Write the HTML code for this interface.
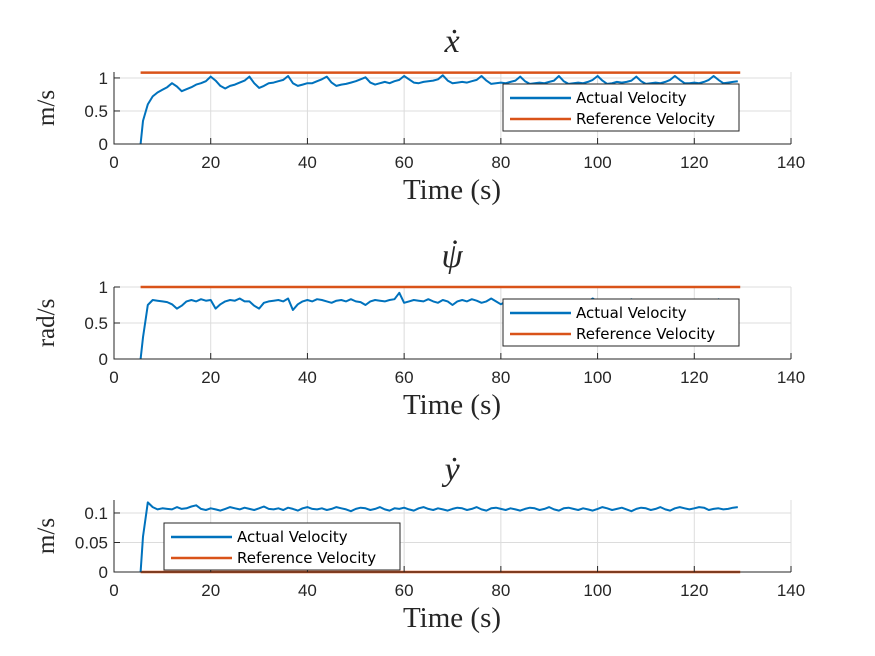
<!DOCTYPE html>
<html><head><meta charset="utf-8"><style>
html,body{margin:0;padding:0;background:#fff;}
svg{display:block;}
.tk{font-family:"Liberation Sans","DejaVu Sans",sans-serif;font-size:17px;fill:#262626;}
.lg{font-family:"DejaVu Sans","Liberation Sans",sans-serif;font-size:15px;fill:#000;}
.sf{font-family:"Liberation Serif",serif;fill:#262626;}
</style></head><body>
<svg id="chart" width="875" height="656" viewBox="0 0 875 656"></svg>
<script>
const timeStart = 5.5;
const xTicks = [0,20,40,60,80,100,120,140];
const xdotActual = [0,0.35,0.6,0.72,0.78,0.82,0.86,0.92,0.87,0.8,0.83,0.86,0.9,0.92,0.95,
1.02,0.96,0.88,0.84,0.88,0.9,0.93,0.96,1.02,0.92,0.85,0.88,0.92,0.93,0.95,0.97,
1.03,0.92,0.88,0.9,0.92,0.92,0.95,0.98,1.02,0.93,0.88,0.9,0.91,0.93,0.95,0.98,
1.01,0.93,0.9,0.92,0.94,0.92,0.95,0.97,1.03,0.98,0.93,0.92,0.94,0.95,0.96,0.98,
1.04,0.96,0.92,0.93,0.94,0.93,0.95,0.97,1.03,0.96,0.91,0.92,0.93,0.92,0.94,0.96,
1.02,0.95,0.91,0.92,0.93,0.92,0.94,0.96,1.03,0.95,0.91,0.92,0.93,0.92,0.94,0.97,
1.03,0.96,0.91,0.92,0.94,0.93,0.94,0.96,1.02,0.95,0.91,0.92,0.93,0.92,0.94,0.97,
1.03,0.97,0.92,0.92,0.93,0.92,0.94,0.97,1.03,0.97,0.92,0.93,0.94,0.95];
const xdotRef = 1.08;
const xdotTicks = [0,0.5,1];
const psidotActual = [0,0.3,0.75,0.82,0.81,0.8,0.79,0.76,0.7,0.74,0.8,0.82,0.8,0.83,0.81,
0.82,0.7,0.76,0.8,0.82,0.81,0.84,0.8,0.8,0.74,0.7,0.78,0.8,0.81,0.82,0.8,
0.84,0.68,0.76,0.8,0.82,0.8,0.83,0.82,0.8,0.78,0.81,0.82,0.8,0.83,0.8,0.79,
0.75,0.8,0.82,0.81,0.8,0.82,0.83,0.92,0.78,0.8,0.82,0.81,0.8,0.83,0.8,0.78,
0.82,0.8,0.75,0.8,0.82,0.8,0.83,0.81,0.78,0.8,0.84,0.8,0.76,0.8,0.82,0.81,
0.82,0.78,0.8,0.81,0.79,0.82,0.8,0.78,0.81,0.8,0.76,0.8,0.82,0.81,0.8,0.84,
0.8,0.79,0.82,0.8,0.78,0.81,0.8,0.83,0.8,0.77,0.8,0.81,0.79,0.82,0.8,0.78,
0.82,0.8,0.8,0.81,0.79,0.8,0.82,0.8,0.78,0.83,0.8,0.79,0.8,0.81];
const psidotRef = 1;
const psidotTicks = [0,0.5,1];
const ydotActual = [0,0.06,0.118,0.11,0.106,0.108,0.107,0.106,0.11,0.107,0.108,0.111,0.113,0.107,0.105,
0.108,0.106,0.104,0.107,0.11,0.108,0.106,0.109,0.107,0.105,0.108,0.111,0.107,0.106,0.108,0.105,
0.109,0.107,0.104,0.108,0.11,0.107,0.106,0.108,0.105,0.107,0.11,0.108,0.106,0.103,0.107,0.109,
0.108,0.105,0.107,0.11,0.106,0.104,0.108,0.107,0.109,0.106,0.104,0.108,0.11,0.107,0.105,0.108,
0.106,0.104,0.107,0.109,0.108,0.105,0.107,0.11,0.106,0.104,0.108,0.109,0.107,0.105,0.108,0.106,
0.104,0.107,0.109,0.108,0.105,0.107,0.11,0.106,0.104,0.108,0.109,0.107,0.105,0.108,0.106,0.104,
0.107,0.11,0.108,0.105,0.107,0.109,0.106,0.103,0.107,0.109,0.108,0.105,0.107,0.11,0.106,0.104,
0.108,0.11,0.108,0.106,0.108,0.11,0.109,0.105,0.107,0.108,0.106,0.107,0.109,0.11];
const ydotRef = 0;
const ydotTicks = [0,0.05,0.1];

const NS='http://www.w3.org/2000/svg';
const svg=document.getElementById('chart');
function mk(tag,attrs,parent){const e=document.createElementNS(NS,tag);for(const k in attrs)e.setAttribute(k,attrs[k]);(parent||svg).appendChild(e);return e;}
const X0=114,X1=791;
function sx(t){return X0+(t-0)/(140-0)*(X1-X0);}

function panel(cfg){
  const g=mk('g',{});
  
  
  const sy=v=>cfg.yb-(v-cfg.ymin)/(cfg.ymax-cfg.ymin)*(cfg.yb-cfg.yt);
  xTicks.forEach(t=>{const l=mk('line',{x1:sx(t),x2:sx(t),y1:cfg.yt,y2:cfg.yb,stroke:'#dcdcdc','stroke-width':1},g);
    });
  cfg.ticks.forEach(v=>{const l=mk('line',{x1:X0,x2:X1,y1:sy(v),y2:sy(v),stroke:'#dcdcdc','stroke-width':1},g);
    });
  const ref=mk('line',{x1:sx(timeStart),x2:sx(timeStart+cfg.actual.length-1),y1:sy(cfg.ref),y2:sy(cfg.ref),stroke:'#d95319','stroke-width':2.5},g);
  
  let d='';
  cfg.actual.forEach((v,i)=>{const t=i===0?timeStart:timeStart+0.5+(i-1);d+=(i?'L':'M')+sx(Math.min(t,129.5)).toFixed(1)+','+sy(v).toFixed(1);});
  const p=mk('path',{d:d,fill:'none',stroke:'#0072bd','stroke-width':2,'stroke-linejoin':'round'},g);
  
  const ax=mk('path',{d:`M${X0},${cfg.yt}V${cfg.yb}H${X1}`,fill:'none',stroke:'#262626','stroke-width':1},g);
  
  xTicks.forEach(t=>{mk('line',{x1:sx(t),x2:sx(t),y1:cfg.yb,y2:cfg.yb-6,stroke:'#262626'},g);
    const tx=mk('text',{x:sx(t),y:cfg.yb+24,'text-anchor':'middle',class:'tk'},g);tx.textContent=t;
    });
  cfg.ticks.forEach(v=>{mk('line',{x1:X0,x2:X0+6,y1:sy(v),y2:sy(v),stroke:'#262626'},g);
    const tx=mk('text',{x:X0-6,y:sy(v)+6,'text-anchor':'end',class:'tk'},g);tx.textContent=v;
    });
  const xl=mk('text',{x:452,y:cfg.yb+55,'text-anchor':'middle',class:'sf','font-size':29},g);xl.textContent='Time (s)';
  
  const yl=mk('text',{x:0,y:0,'text-anchor':'middle',class:'sf','font-size':25,transform:`translate(54,${(cfg.yt+cfg.yb)/2}) rotate(-90)`},g);yl.textContent=cfg.ylabel;
  
  const ti=mk('text',{x:452,y:cfg.yt-20,'text-anchor':'middle',class:'sf','font-size':34,'font-style':'italic',fill:'#000'},g);ti.textContent=cfg.title;
  
  if(cfg.dot){const dt=mk('text',{x:455,y:cfg.yt-24,'text-anchor':'middle',class:'sf','font-size':34,fill:'#000'},g);dt.textContent='˙';
    }
  const lg=mk('g',{},g);
  
  mk('rect',{x:cfg.lx,y:cfg.ly,width:236,height:47,fill:'#fff',stroke:'#262626','stroke-width':1},lg);
  mk('line',{x1:cfg.lx+7,x2:cfg.lx+68,y1:cfg.ly+14,y2:cfg.ly+14,stroke:'#0072bd','stroke-width':2.5},lg);
  mk('line',{x1:cfg.lx+7,x2:cfg.lx+68,y1:cfg.ly+35,y2:cfg.ly+35,stroke:'#d95319','stroke-width':2.5},lg);
  const a=mk('text',{x:cfg.lx+73,y:cfg.ly+19,class:'lg'},lg);a.textContent='Actual Velocity';
  
  const r=mk('text',{x:cfg.lx+73,y:cfg.ly+40,class:'lg'},lg);r.textContent='Reference Velocity';
  
}
panel({name:'x-dot',yt:72,yb:144,ymin:0,ymax:1.09,ticks:xdotTicks,actual:xdotActual,ref:xdotRef,ylabel:'m/s',title:'ẋ',lx:503,ly:84});
panel({name:'psi-dot',yt:287,yb:359,ymin:0,ymax:1,ticks:psidotTicks,actual:psidotActual,ref:psidotRef,ylabel:'rad/s',title:'ψ',dot:true,lx:503,ly:299});
panel({name:'y-dot',yt:500,yb:572,ymin:0,ymax:0.122,ticks:ydotTicks,actual:ydotActual,ref:ydotRef,ylabel:'m/s',title:'ẏ',lx:164,ly:523});
</script>
</body></html>
